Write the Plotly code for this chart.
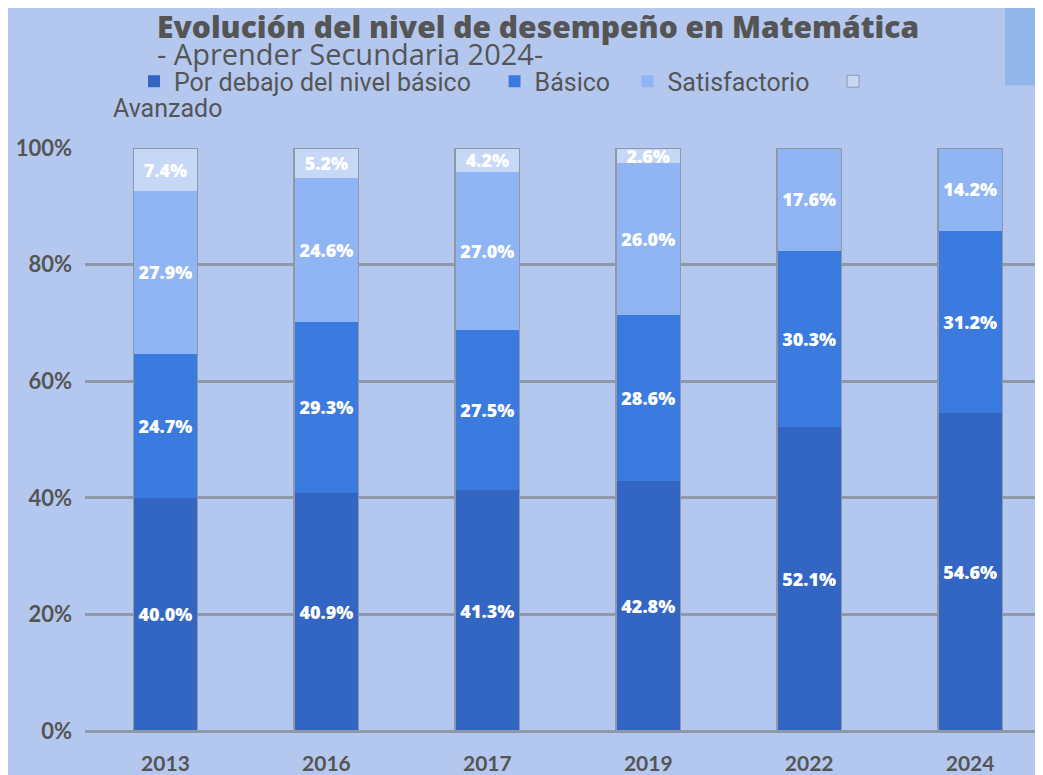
import plotly.graph_objects as go

years = ["2013", "2016", "2017", "2019", "2022", "2024"]
por_debajo = [40.0, 40.9, 41.3, 42.8, 52.1, 54.6]
basico = [24.7, 29.3, 27.5, 28.6, 30.3, 31.2]
satisfactorio = [27.9, 24.6, 27.0, 26.0, 17.6, 14.2]
avanzado = [7.4, 5.2, 4.2, 2.6, 0.0, 0.0]

names = ["Por debajo del nivel básico", "Básico", "Satisfactorio", "Avanzado"]
colors = ["#3366c2", "#3b7be0", "#8fb5f5", "#c6d8f6"]
bg = "#b4c8ef"
grid = "#8e98a8"
txt = "#555555"

# the page body has an 8px margin, so positions below are shifted by 8px
off = 8
# extra room after each legend label (non-breaking spaces)
pad = ["\u00a0" * 3, "\u00a0" * 2, "\u00a0" * 3, ""]

fig = go.Figure()

series = [por_debajo, basico, satisfactorio, avanzado]
for i, vals in enumerate(series):
    labels = ["{:.1f}%".format(v) if v > 0 else "" for v in vals]
    fig.add_trace(go.Bar(
        x=years, y=vals, name=names[i] + pad[i],
        marker=dict(color=colors[i], line=dict(width=0)),
        text=labels, textposition="inside", insidetextanchor="middle",
        constraintext="none",
        textfont=dict(family="Open Sans", size=18, color="white", weight=800),
        showlegend=(i < 3),
        hovertemplate="%{x}: %{y:.1f}%<extra>" + names[i] + "</extra>",
    ))

# legend entry for Avanzado (label is written on the next line, as in the original)
fig.add_trace(go.Bar(x=[None], y=[None], name=" ",
                     marker=dict(color=colors[3], line=dict(color=grid, width=1)),
                     hoverinfo="skip"))

# outline of each full bar
totals = [a + b + c + d for a, b, c, d in zip(*series)]
fig.add_trace(go.Bar(
    x=years, y=totals, xaxis="x2", showlegend=False, hoverinfo="skip",
    marker=dict(color="rgba(0,0,0,0)", line=dict(color=grid, width=1.5)),
))

xr = [-0.5, 5.453]
fig.update_layout(
    width=1043, height=775,
    barmode="stack", bargap=0.6,
    paper_bgcolor=bg, plot_bgcolor=bg,
    margin=dict(l=85 - off, r=off, t=148 - off, b=40 + off),
    font=dict(family="Lato", color=txt),
    title=dict(
        text="Evolución del nivel de desempeño en Matemática",
        font=dict(family="Open Sans", size=30, color=txt, weight=800),
        x=(157 - off) / 1043, xanchor="left", xref="container",
        y=1 - (27 - off) / 775, yanchor="middle", yref="container",
    ),
    xaxis=dict(range=xr, showgrid=False, zeroline=False, showline=False,
               tickfont=dict(family="Lato", size=21, color=txt, weight=700),
               ticklabelstandoff=18),
    xaxis2=dict(range=xr, overlaying="x", visible=False, matches="x"),
    yaxis=dict(range=[0, 100], dtick=20, ticksuffix="%",
               showgrid=True, gridcolor=grid, gridwidth=3,
               zeroline=True, zerolinecolor=grid, zerolinewidth=3,
               showline=False,
               tickfont=dict(family="Lato", size=22, color=txt, weight=700),
               ticklabelstandoff=12),
    legend=dict(orientation="h", x=(134 - 85) / 958, xanchor="left",
                y=1 + 67 / 587, yanchor="middle",
                bgcolor="rgba(0,0,0,0)",
                font=dict(family="Roboto", size=25, color=txt),
                traceorder="normal"),
    annotations=[
        dict(text="- Aprender Secundaria 2024-", xref="paper", yref="paper",
             x=(155 - 85) / 958, y=1 + (148 - 53) / 587,
             xanchor="left", yanchor="middle", showarrow=False,
             font=dict(family="Open Sans", size=29, color=txt)),
        dict(text="Avanzado", xref="paper", yref="paper",
             x=(111 - 85) / 958, y=1 + (148 - 108) / 587,
             xanchor="left", yanchor="middle", showarrow=False,
             font=dict(family="Roboto", size=25, color=txt)),
    ],
    shapes=[
        dict(type="rect", xref="paper", yref="paper", layer="below",
             x0=(1005 - 85) / 958, x1=1.1,
             y0=1 + (148 - 85) / 587, y1=1.3,
             fillcolor="#92b5ea", line=dict(width=0)),
    ],
)

fig.write_html("out.html")
